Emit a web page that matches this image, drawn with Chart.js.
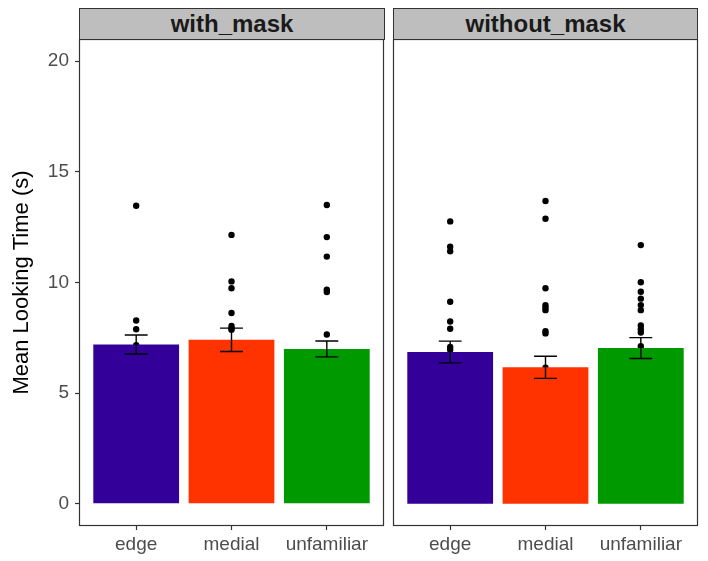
<!DOCTYPE html>
<html>
<head>
<meta charset="utf-8">
<script src="https://cdn.jsdelivr.net/npm/chart.js@4.4.1/dist/chart.umd.min.js"></script>
<style>
  html, body { margin: 0; padding: 0; background: #fff; }
  body { width: 708px; height: 561px; position: relative; overflow: hidden;
         font-family: "Liberation Sans", Arial, sans-serif; }
  .strip { position: absolute; top: 8px; height: 32px; box-sizing: border-box;
           background: #bebebe; border: 1px solid #333; color: #1a1a1a;
           font-weight: bold; font-size: 24px; line-height: 29px; text-align: center; }
  .panel { position: absolute; top: 39px; height: 522px; }
</style>
</head>
<body>
<div class="strip" id="strip1" style="left:79px; width:306px;"></div>
<div class="strip" id="strip2" style="left:393px; width:305px;"></div>
<div class="panel" style="left:0; width:386px;"><canvas id="panelWith"></canvas></div>
<div class="panel" style="left:392px; width:308px;"><canvas id="panelWithout"></canvas></div>
<script>
/* ---------- data ---------- */
const panelNames = ["with_mask", "without_mask"];
const categories = ["edge", "medial", "unfamiliar"];
const yTicks = [0, 5, 10, 15, 20];
const barColors = ["#330099", "#FF3300", "#009900"];

const withMaskMeans = [7.20, 7.41, 7.00];
const withMaskSE = [0.43, 0.53, 0.36];
const withoutMaskMeans = [6.86, 6.17, 7.04];
const withoutMaskSE = [0.49, 0.50, 0.47];

const withEdge = [13.47, 8.28, 7.89, 7.17, 6.30, 5.44, 4.57, 4.48, 4.04, 3.13, 2.34, 2.03, 1.74, 1.21];
const withMedial = [12.15, 10.05, 9.74, 8.62, 8.04, 7.92, 7.86, 7.18, 6.06, 5.79, 5.31, 5.18, 4.48, 4.02, 3.87, 3.07, 2.81, 2.05, 0.58];
const withUnfamiliar = [13.50, 12.05, 11.17, 9.67, 9.57, 7.65, 6.66, 6.39, 5.80, 5.70, 5.18, 4.85, 4.20, 3.80, 3.70, 3.45, 3.17, 2.61, 2.03, 1.36];
const withoutEdge = [12.76, 11.62, 11.41, 9.13, 8.24, 7.91, 7.09, 6.96, 6.68, 6.00, 5.88, 5.76, 5.05, 4.90, 4.64, 3.04, 1.87];
const withoutMedial = [13.68, 12.88, 9.74, 8.97, 8.86, 8.75, 7.80, 7.70, 6.15, 5.88, 5.67, 5.20, 5.08, 4.70, 4.19, 2.66, 2.33, 1.03];
const withoutUnfamiliar = [11.69, 10.01, 9.58, 9.27, 8.98, 8.75, 8.06, 7.89, 7.74, 7.12, 6.76, 6.53, 5.75, 4.70, 4.02, 3.28, 1.78];

/* ---------- strips ---------- */
document.getElementById("strip1").textContent = panelNames[0];
document.getElementById("strip2").textContent = panelNames[1];

/* ---------- plugin: error bars + panel border ---------- */
const panelPlugin = {
    id: "panelPlugin",
    afterDatasetDraw(chart, args, opts) {
        if (args.index !== 0) return;
        const { ctx, scales: { x, y } } = chart;
        ctx.save();
        ctx.strokeStyle = "#000";
        ctx.lineWidth = 1.4;
        opts.means.forEach((m, i) => {
            const cx = x.getPixelForValue(i + 1);
            const hw = x.getPixelForValue(i + 1.12) - cx;
            const top = y.getPixelForValue(m + opts.se[i]);
            const bot = y.getPixelForValue(m - opts.se[i]);
            ctx.beginPath();
            ctx.moveTo(cx - hw, top); ctx.lineTo(cx + hw, top);
            ctx.moveTo(cx, top); ctx.lineTo(cx, bot);
            ctx.moveTo(cx - hw, bot); ctx.lineTo(cx + hw, bot);
            ctx.stroke();
        });
        ctx.restore();
    },
    afterDraw(chart) {
        const { ctx, chartArea: a } = chart;
        ctx.save();
        ctx.strokeStyle = "#333";
        ctx.lineWidth = 1.2;
        ctx.strokeRect(a.left + 0.5, a.top + 0.5, a.width - 1, a.height - 1);
        ctx.restore();
    }
};

function makePanel(canvasId, means, se, pointSets, showY) {
    const tickFont = { family: "'Liberation Sans', Arial, sans-serif", size: 19 };
    const datasets = [{
        type: "bar",
        data: means.map((m, i) => ({ x: i + 1, y: m })),
        backgroundColor: barColors,
        borderWidth: 0,
        barPercentage: 0.9,
        categoryPercentage: 1.0
    }];
    pointSets.forEach((pts, i) => {
        datasets.push({
            type: "scatter",
            data: pts.map(v => ({ x: i + 1, y: v })),
            pointRadius: 3.2,
            pointBackgroundColor: "#000",
            pointBorderWidth: 0
        });
    });

    new Chart(document.getElementById(canvasId), {
        type: "bar",
        data: { datasets },
        options: {
            responsive: true,
            maintainAspectRatio: false,
            animation: false,
            layout: {
                autoPadding: false,
                padding: showY ? { left: 0, right: 2, top: 0, bottom: 0 }
                               : { left: 1, right: 2, top: 0, bottom: 0 }
            },
            plugins: {
                legend: { display: false },
                tooltip: { enabled: false },
                panelPlugin: { means, se }
            },
            scales: {
                x: {
                    type: "linear",
                    min: 0.4,
                    max: 3.6,
                    offset: false,
                    afterBuildTicks: s => { s.ticks = categories.map((c, i) => ({ value: i + 1 })); },
                    afterFit: s => {
                        s.height = 35;
                        s.paddingLeft = 0;
                        s.paddingRight = 0;
                    },
                    ticks: {
                        callback: v => categories[v - 1],
                        color: "#4d4d4d",
                        font: tickFont,
                        padding: 3,
                        maxRotation: 0
                    },
                    grid: { offset: false, drawOnChartArea: false, tickLength: 4, color: "#333", tickWidth: 1.2 },
                    border: { display: false }
                },
                y: {
                    display: showY,
                    min: -1,
                    max: 21,
                    afterBuildTicks: s => { s.ticks = yTicks.map(v => ({ value: v })); },
                    afterFit: s => {
                        if (showY) s.width = 79;
                        s.paddingTop = 0;
                        s.paddingBottom = 0;
                    },
                    ticks: { color: "#4d4d4d", font: tickFont, padding: 6 },
                    grid: { drawOnChartArea: false, tickLength: 4, color: "#333", tickWidth: 1.2 },
                    border: { display: false },
                    title: {
                        display: true,
                        text: "Mean Looking Time (s)",
                        color: "#000",
                        font: { family: "'Liberation Sans', Arial, sans-serif", size: 22 },
                        padding: { top: 9, bottom: 0 }
                    }
                }
            }
        },
        plugins: [panelPlugin]
    });
}

makePanel("panelWith", withMaskMeans, withMaskSE, [withEdge, withMedial, withUnfamiliar], true);
makePanel("panelWithout", withoutMaskMeans, withoutMaskSE, [withoutEdge, withoutMedial, withoutUnfamiliar], false);
</script>
</body>
</html>
